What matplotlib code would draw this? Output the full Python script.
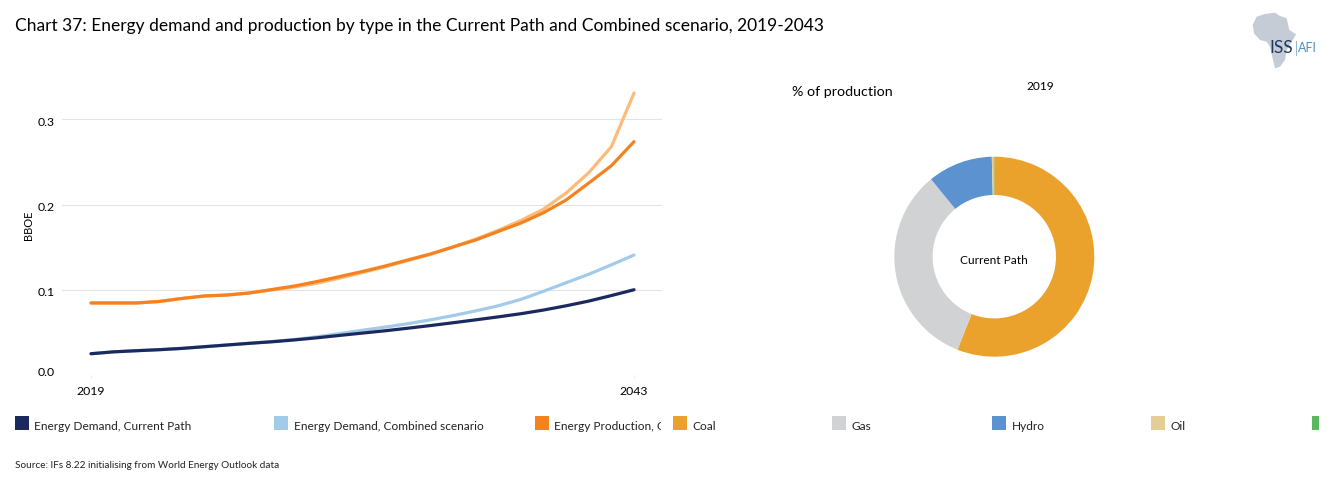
import matplotlib
matplotlib.use('Agg')
import matplotlib.pyplot as plt
from matplotlib.patches import Polygon, Rectangle
from matplotlib.transforms import ScaledTranslation

plt.rcParams['font.family'] = ['Lato', 'DejaVu Sans']

W, H = 1330, 486

years = list(range(2019, 2044))

# Values (BBOE)
demand_current = [.0253, .0275, .0288, .0300, .0315, .0335, .0355, .0375, .0393, .0415, .0440, .0468, .0495,
                  .0522, .0552, .0583, .0616, .0650, .0685, .0722, .0765, .0815, .0870, .0935, .1003]
demand_combined = [.0253, .0275, .0288, .0300, .0315, .0335, .0355, .0375, .0396, .0420, .0452, .0490, .0528,
                   .0565, .0605, .0650, .0700, .0755, .0815, .0890, .0985, .1085, .1185, .1295, .1410]
production_current = [.0848, .0848, .0848, .0865, .0900, .0930, .0941, .0965, .1006, .1047, .1100, .1158, .1217,
                      .1281, .1352, .1422, .1504, .1586, .1686, .1785, .1906, .2055, .2254, .2457, .2739]
production_combined = [.0848, .0848, .0848, .0865, .0900, .0930, .0941, .0965, .1000, .1035, .1080, .1140, .1205,
                       .1272, .1345, .1418, .1505, .1595, .1700, .1815, .1948, .2137, .2375, .2680, .3309]

# Share of production in 2019 (%)
mix_values = [56.0, 33.1, 10.5, 0.3, 0.1]
mix_colors = ['#EAA22D', '#D1D2D4', '#5B92CF', '#E5CD96', '#5CB860']

y_ticks = [0.0, 0.1, 0.2, 0.3]
x_ticks = [2019, 2043]


def px_axes(left, top, right, bottom):
    return fig.add_axes([left / W, 1 - bottom / H, (right - left) / W, (bottom - top) / H])


fig = plt.figure(figsize=(W / 100, H / 100), dpi=100)

# Overlay in pixel coordinates for the title, legend and logo
page = fig.add_axes([0, 0, 1, 1])
page.set_xlim(0, W)
page.set_ylim(H, 0)
page.axis('off')

page.text(15, 26, 'Chart 37: Energy demand and production by type in the Current Path and Combined scenario, 2019-2043',
          fontsize=12.5, va='center', color='black')
page.text(15, 465, 'Source: IFs 8.22 initialising from World Energy Outlook data', fontsize=7.2, va='center', color='#222222')

# Line chart
ax = px_axes(62, 85, 662, 375.3)
ax.plot(years, production_combined, color='#FDBB7A', lw=2.3, solid_capstyle='round')
ax.plot(years, demand_combined, color='#A2CBE9', lw=2.3, solid_capstyle='round')
ax.plot(years, production_current, color='#F58220', lw=2.3, solid_capstyle='round')
ax.plot(years, demand_current, color='#1B2A5E', lw=2.3, solid_capstyle='round')
ax.set_xlim(2019 - 29 / 22.625, 2043 + 28 / 22.625)
ax.set_ylim(0, 290.3 / 853)
ax.set_xticks(x_ticks)
ax.set_yticks(y_ticks)
ax.set_yticklabels(['%.1f' % v for v in y_ticks], fontsize=8.8)
ax.set_xticklabels([str(v) for v in x_ticks], fontsize=8.8)
ax.grid(axis='y', color='#E3E3E3', lw=0.8)
ax.set_axisbelow(True)
for side in ax.spines:
    ax.spines[side].set_visible(False)
ax.tick_params(axis='x', length=2.5, color='#EEEEEE', pad=5)
ax.tick_params(axis='y', length=0, pad=5)
ax.set_ylabel('BBOE', fontsize=8)
ax.yaxis.set_label_coords(-0.046, 0.518)

# The labels sit a little below their gridlines, except the bottom one
for v, label in zip(y_ticks, ax.get_yticklabels()):
    shift = 4 if v == 0 else -2
    label.set_transform(label.get_transform() + ScaledTranslation(0, shift / 100, fig.dpi_scale_trans))

# Donut chart
donut = px_axes(894.3, 156.7, 1094.3, 356.7)
donut.pie(mix_values, colors=mix_colors, startangle=90, counterclock=False, radius=1,
          wedgeprops={'width': 0.383})
donut.set_xlim(-1, 1)
donut.set_ylim(-1, 1)
page.text(994, 260, 'Current Path', fontsize=8.6, ha='center', va='center')
page.text(792, 92, '% of production', fontsize=10.3, va='center')
page.text(1040, 86, '2019', fontsize=8.6, ha='center', va='center')

# Legend
legend_items = [
    (15, 'Energy Demand, Current Path', '#1B2A5E'),
    (274, 'Energy Demand, Combined scenario', '#A2CBE9'),
    (535, 'Energy Production, C', '#F58220'),
    (673, 'Coal', mix_colors[0]),
    (832, 'Gas', mix_colors[1]),
    (992, 'Hydro', mix_colors[2]),
    (1151, 'Oil', mix_colors[3]),
]
for x, name, color in legend_items:
    page.add_patch(Rectangle((x, 416), 14, 14, color=color, lw=0))
    t = page.text(x + 19.5, 426, name, fontsize=8.6, va='center', color='#222222')
    if x == 535:
        # long label is cut off by the next entry
        t.set_clip_path(Rectangle((535, 410), 126, 30, transform=page.transData))
        t.set_clip_on(True)
page.add_patch(Rectangle((1312, 416), 7, 14, color=mix_colors[4], lw=0))

# Logo
outline = [(68, 75), (80, 50), (105, 42), (135, 38), (150, 48), (170, 55), (178, 90), (198, 103), (185, 125),
           (170, 150), (165, 180), (150, 200), (135, 205), (128, 175), (120, 140), (110, 125), (90, 120), (72, 100)]
page.add_patch(Polygon([(1230 + a / 3, b / 3) for a, b in outline], closed=True, color='#C5CCD6', lw=0))
page.text(1281.5, 48, 'ISS', fontsize=12.5, color='#1F3864', ha='center', va='center')
page.plot([1296, 1296], [41, 55], color='#7FA9D0', lw=0.6)
page.text(1307, 48, 'AFI', fontsize=9, color='#4A90C8', ha='center', va='center')

fig.savefig('out.png', dpi=100)
